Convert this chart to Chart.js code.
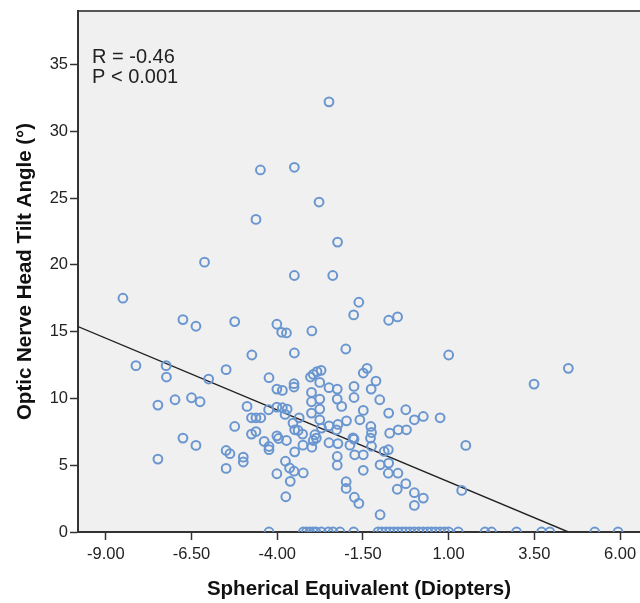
<!DOCTYPE html>
<html>
<head>
<meta charset="utf-8">
<script src="https://cdn.jsdelivr.net/npm/chart.js@4.4.1/dist/chart.umd.min.js"></script>
<style>
  html, body { margin: 0; padding: 0; background: #fff; }
</style>
</head>
<body>
<canvas id="tiltChart" width="640" height="603"></canvas>
<script>
// Spherical equivalent (D) and tilt angle (deg)
const sphericalEq = [
  -2.49, -4.49, -3.50, -2.78, -4.62, -2.24, -6.12, -3.50, -2.38, -8.50,
  -1.62, -1.77, -0.75, -0.49, -6.75, -6.37, -5.24, -4.01, -3.87, -3.73,
  -2.99, -4.74, -3.50, -2.00, 1.00, 4.49, 3.49, -8.12, -7.24, -7.23,
  -6.00, -5.49, -4.24, -3.03, -2.95, -2.84, -2.72, -1.49, -1.38, -1.12,
  -3.51, -3.51, -4.01, -3.85, -2.76, -2.49, -2.25, -1.76, -1.26, -3.00,
  -7.48, -6.98, -6.50, -6.25, -4.88, -4.25, -4.01, -3.85, -3.71, -3.77,
  -3.00, -2.76, -2.76, -2.25, -2.12, -1.76, -1.01, -3.00, -1.49, -0.75,
  -0.25, 0.00, 0.26, 0.75, -4.75, -4.62, -4.48, -3.36, -3.54, -3.49,
  -3.39, -3.26, -2.90, -2.76, -1.59, -1.98, -2.23, -2.49, -2.27, -2.71,
  -1.27, -1.25, -0.72, -0.47, -0.23, -5.24, -4.75, -4.62, -6.75, -6.37,
  -4.38, -4.24, -4.24, -4.01, -3.96, -3.73, -3.25, -2.99, -2.95, -2.86,
  -1.79, -1.76, -1.28, -2.49, -2.23, -1.88, -1.25, -3.49, -5.49, -5.38,
  -4.99, -4.99, -7.48, -5.49, -3.76, -3.64, -3.51, -3.24, -4.01, -3.62,
  -3.75, -2.25, -2.25, -1.74, -1.49, -1.49, -0.88, -0.76, 1.50, -1.00,
  -0.75, -0.76, -0.48, -1.99, -1.99, -0.50, -0.25, 0.00, 0.26, 0.00,
  -1.75, -1.62, -1.00, 1.38
];
const tiltAngle = [
  32.2, 27.1, 27.3, 24.7, 23.4, 21.7, 20.2, 19.2, 19.2, 17.5,
  17.2, 16.25, 15.85, 16.1, 15.9, 15.4, 15.75, 15.55, 14.95, 14.9,
  15.05, 13.25, 13.4, 13.7, 13.25, 12.25, 11.07, 12.45, 12.45, 11.6,
  11.45, 12.15, 11.55, 11.6, 11.8, 12.0, 12.1, 11.9, 12.25, 11.3,
  11.1, 10.85, 10.7, 10.6, 11.2, 10.8, 10.7, 10.9, 10.7, 10.45,
  9.5, 9.9, 10.05, 9.75, 9.4, 9.15, 9.35, 9.3, 9.2, 8.8,
  9.75, 9.95, 9.2, 9.95, 9.4, 10.07, 9.9, 8.9, 9.1, 8.9,
  9.15, 8.4, 8.65, 8.55, 8.55, 8.55, 8.55, 8.55, 8.15, 7.65,
  7.6, 7.33, 7.28, 8.4, 8.4, 8.32, 8.05, 7.95, 7.65, 7.78,
  7.9, 7.45, 7.4, 7.65, 7.65, 7.9, 7.33, 7.52, 7.03, 6.48,
  6.78, 6.4, 6.16, 7.2, 7.0, 6.85, 6.5, 6.35, 6.85, 7.03,
  7.05, 6.95, 7.03, 6.68, 6.62, 6.5, 6.42, 6.0, 6.1, 5.86,
  5.6, 5.24, 5.46, 4.76, 5.3, 4.79, 4.55, 4.42, 4.36, 3.79,
  2.64, 5.65, 5.0, 5.78, 5.78, 4.62, 6.03, 6.16, 6.48, 5.03,
  5.16, 4.4, 4.4, 3.76, 3.26, 3.2, 3.62, 2.94, 2.54, 1.99,
  2.6, 2.14, 1.29, 3.11
];
// eyes with no measurable tilt (angle = 0)
const zeroTiltEq = [
  -4.24, -3.24, -3.15, -3.05, -2.95, -2.87, -2.71, -2.51, -2.37, -2.17,
  -1.77, -1.06, -0.95, -0.83, -0.72, -0.60, -0.48, -0.36, -0.25, -0.13,
  0.00, 0.13, 0.25, 0.38, 0.50, 0.62, 0.75, 0.88, 1.00, 1.28,
  2.06, 2.25, 2.98, 3.71, 3.95, 5.26, 5.94
];
// fit line end points (left plot edge, where it meets zero)
const fitEq = [-9.81, 4.49];
const fitTilt = [15.38, 0];

const xTickValues = [-9, -6.5, -4, -1.5, 1, 3.5, 6];
const yTickValues = [0, 5, 10, 15, 20, 25, 30, 35];
const statLines = ['R = -0.46', 'P < 0.001'];

const FONT = '"Liberation Sans", Arial, sans-serif';

const points = sphericalEq.map((x, i) => ({ x: x, y: tiltAngle[i] }))
  .concat(zeroTiltEq.map(x => ({ x: x, y: 0 })));
const fitPoints = fitEq.map((x, i) => ({ x: x, y: fitTilt[i] }));

// gray plot background plus the top frame line
const plotBackground = {
  id: 'plotBackground',
  beforeDraw(chart) {
    const { ctx, chartArea } = chart;
    ctx.save();
    ctx.fillStyle = '#f0f0f0';
    ctx.fillRect(chartArea.left, chartArea.top, chartArea.right - chartArea.left, chartArea.bottom - chartArea.top);
    ctx.strokeStyle = '#555';
    ctx.lineWidth = 2;
    ctx.beginPath();
    ctx.moveTo(chartArea.left, chartArea.top);
    ctx.lineTo(chartArea.right, chartArea.top);
    ctx.stroke();
    ctx.restore();
  }
};

// R / P text in the upper left corner
const statText = {
  id: 'statText',
  afterDraw(chart) {
    const { ctx, chartArea } = chart;
    ctx.save();
    ctx.fillStyle = '#222';
    ctx.font = '20px ' + FONT;
    ctx.textBaseline = 'alphabetic';
    statLines.forEach((line, i) => {
      ctx.fillText(line, chartArea.left + 14, chartArea.top + 52 + i * 20);
    });
    ctx.restore();
  }
};

new Chart(document.getElementById('tiltChart'), {
  type: 'scatter',
  data: {
    datasets: [
      {
        data: points,
        borderColor: '#6a96d0',
        backgroundColor: 'rgba(0,0,0,0)',
        borderWidth: 2,
        pointRadius: 4.4,
        clip: 0
      },
      {
        type: 'line',
        data: fitPoints,
        borderColor: '#222',
        borderWidth: 1.4,
        pointRadius: 0,
        fill: false
      }
    ]
  },
  options: {
    responsive: false,
    animation: false,
    // the plot runs off the right edge of the picture
    layout: { autoPadding: false, padding: { top: 11, right: 0, left: 0, bottom: 0 } },
    plugins: {
      legend: { display: false },
      tooltip: { enabled: false }
    },
    scales: {
      x: {
        type: 'linear',
        min: -9.81,
        max: 6.58,
        afterBuildTicks: scale => { scale.ticks = xTickValues.map(v => ({ value: v })); },
        afterFit: scale => { scale.height = 71; scale.paddingLeft = 0; scale.paddingRight = 0; },
        ticks: {
          callback: v => v.toFixed(2),
          font: { family: FONT, size: 16.5 },
          color: '#222',
          padding: 5,
          maxRotation: 0,
          autoSkip: false
        },
        grid: { drawOnChartArea: false, drawTicks: true, tickLength: 8, color: '#333', tickWidth: 1.5 },
        border: { display: true, color: '#333', width: 2 },
        title: {
          display: true,
          text: 'Spherical Equivalent (Diopters)',
          font: { family: FONT, size: 20.5, weight: 'bold' },
          color: '#111',
          padding: { top: 0, bottom: 1 }
        }
      },
      y: {
        type: 'linear',
        min: 0,
        max: 39,
        afterBuildTicks: scale => { scale.ticks = yTickValues.map(v => ({ value: v })); },
        afterFit: scale => { scale.width = 78; scale.paddingTop = 0; scale.paddingBottom = 0; },
        ticks: {
          font: { family: FONT, size: 16.5 },
          color: '#222',
          padding: 2
        },
        grid: { drawOnChartArea: false, drawTicks: true, tickLength: 8, color: '#333', tickWidth: 1.5 },
        border: { display: true, color: '#333', width: 2 },
        title: {
          display: true,
          text: 'Optic Nerve Head Tilt Angle (°)',
          font: { family: FONT, size: 20.5, weight: 'bold' },
          color: '#111',
          padding: { top: 13, bottom: 0 }
        }
      }
    }
  },
  plugins: [plotBackground, statText]
});
</script>
</body>
</html>
